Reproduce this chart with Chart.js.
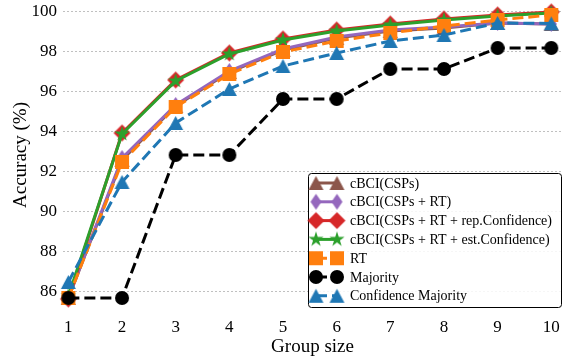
<!DOCTYPE html>
<html>
<head>
<meta charset="utf-8">
<script src="https://cdn.jsdelivr.net/npm/chart.js@4.4.0/dist/chart.umd.min.js"></script>
<style>
  html, body { margin: 0; padding: 0; background: #fff; }
</style>
</head>
<body>
<canvas id="accChart" width="565" height="360"></canvas>
<script>
const groupSizes = [1, 2, 3, 4, 5, 6, 7, 8, 9, 10];
const yTicks = [86, 88, 90, 92, 94, 96, 98, 100];

const accCsp = [85.7, 92.6, 95.3, 97.0, 98.1, 98.7, 99.05, 99.2, 99.45, 99.4];
const accCspRt = [85.7, 92.7, 95.35, 97.05, 98.15, 98.75, 99.1, 99.25, 99.45, 99.4];
const accRepConf = [85.65, 93.95, 96.6, 97.95, 98.65, 99.1, 99.4, 99.65, 99.85, 100.0];
const accEstConf = [85.8, 93.9, 96.55, 97.9, 98.6, 99.05, 99.35, 99.6, 99.8, 99.95];
const accRt = [85.7, 92.5, 95.25, 96.9, 98.0, 98.55, 98.95, 99.3, 99.6, 99.85];
const accMajority = [85.7, 85.7, 92.85, 92.85, 95.65, 95.65, 97.15, 97.15, 98.2, 98.2];
const accConfMajority = [86.5, 91.5, 94.45, 96.15, 97.3, 97.95, 98.55, 98.85, 99.45, 99.43];

const seriesNames = [
    'cBCI(CSPs)',
    'cBCI(CSPs + RT)',
    'cBCI(CSPs + RT + rep.Confidence)',
    'cBCI(CSPs + RT + est.Confidence)',
    'RT',
    'Majority',
    'Confidence Majority'
];

const serif = '"Liberation Serif", "DejaVu Serif", serif';

// filled marker drawn once on a small canvas, used as pointStyle
function makeMarker(shape, color, w, h) {
    const c = document.createElement('canvas');
    c.width = w + 2;
    c.height = h + 2;
    const g = c.getContext('2d');
    g.fillStyle = color;
    g.translate(c.width / 2, c.height / 2);
    g.beginPath();
    if (shape === 'triangle') {
        g.moveTo(0, -h / 2); g.lineTo(w / 2, h / 2); g.lineTo(-w / 2, h / 2);
    } else if (shape === 'diamond') {
        g.moveTo(0, -h / 2); g.lineTo(w / 2, 0); g.lineTo(0, h / 2); g.lineTo(-w / 2, 0);
    } else if (shape === 'square') {
        g.rect(-w / 2, -h / 2, w, h);
    } else if (shape === 'circle') {
        g.arc(0, 0, w / 2, 0, Math.PI * 2);
    } else if (shape === 'star') {
        for (let i = 0; i < 10; i++) {
            const r = i % 2 ? w / 2 * 0.382 : w / 2;
            const a = -Math.PI / 2 + i * Math.PI / 5;
            g.lineTo(r * Math.cos(a), r * Math.sin(a));
        }
    }
    g.closePath();
    g.fill();
    return c;
}

const styles = [
    { color: '#8c564b', dash: [], marker: makeMarker('triangle', '#8c564b', 15, 14) },
    { color: '#9467bd', dash: [], marker: makeMarker('diamond', '#9467bd', 11, 16) },
    { color: '#d62728', dash: [], marker: makeMarker('diamond', '#d62728', 17, 17) },
    { color: '#2ca02c', dash: [], marker: makeMarker('star', '#2ca02c', 16, 16) },
    { color: '#ff7f0e', dash: [11, 5], marker: makeMarker('square', '#ff7f0e', 14, 14) },
    { color: '#000000', dash: [11, 5], marker: makeMarker('circle', '#000000', 14, 14) },
    { color: '#1f77b4', dash: [11, 5], marker: makeMarker('triangle', '#1f77b4', 15, 14) }
];

const allSeries = [accCsp, accCspRt, accRepConf, accEstConf, accRt, accMajority, accConfMajority];

const datasets = allSeries.map((vals, i) => ({
    label: seriesNames[i],
    data: groupSizes.map((g, k) => ({ x: g, y: vals[k] })),
    borderColor: styles[i].color,
    backgroundColor: styles[i].color,
    borderWidth: 3,
    borderDash: styles[i].dash,
    pointStyle: styles[i].marker,
    pointRadius: 7,
    tension: 0,
    fill: false,
    clip: false,
    order: allSeries.length - i
}));

// legend box in the lower right, matplotlib style
const boxLegend = {
    id: 'boxLegend',
    afterDraw(chart) {
        const ctx = chart.ctx;
        const x0 = 308, y0 = 173, w = 253, h = 134;
        ctx.save();
        ctx.beginPath();
        ctx.roundRect(x0 + 0.5, y0 + 0.5, w, h, 3);
        ctx.fillStyle = 'rgba(255,255,255,0.85)';
        ctx.fill();
        ctx.strokeStyle = '#000';
        ctx.lineWidth = 1;
        ctx.stroke();

        ctx.font = '14px ' + serif;
        ctx.textBaseline = 'middle';
        ctx.textAlign = 'left';
        seriesNames.forEach((name, i) => {
            const y = 183 + i * 18.8;
            const s = styles[i];
            ctx.beginPath();
            ctx.setLineDash(s.dash);
            ctx.strokeStyle = s.color;
            ctx.lineWidth = 3;
            ctx.moveTo(316, y);
            ctx.lineTo(337, y);
            ctx.stroke();
            ctx.setLineDash([]);
            [316, 337].forEach(px => {
                ctx.drawImage(s.marker, px - s.marker.width / 2, y - s.marker.height / 2);
            });
            ctx.fillStyle = '#000';
            ctx.fillText(name, 350, y + 1);
        });
        ctx.restore();
    }
};

new Chart(document.getElementById('accChart'), {
    type: 'line',
    data: { datasets: datasets },
    options: {
        responsive: false,
        devicePixelRatio: 1,
        animation: false,
        layout: { autoPadding: false, padding: { top: 0, right: 3, bottom: 0, left: 0 } },
        scales: {
            x: {
                type: 'linear',
                min: 0.9,
                max: 10.2,
                afterBuildTicks: (s) => { s.ticks = groupSizes.map(v => ({ value: v })); },
                afterFit: (s) => { s.height = 50; s.paddingLeft = 0; s.paddingRight = 0; },
                grid: { display: false, drawTicks: false },
                border: { display: false },
                ticks: { color: '#000', font: { family: serif, size: 17 }, padding: 7, maxRotation: 0 },
                title: { display: true, text: 'Group size', color: '#000', font: { family: serif, size: 19 }, padding: { top: 0, bottom: 2 } }
            },
            y: {
                min: 85.1,
                max: 100.6,
                afterBuildTicks: (s) => { s.ticks = yTicks.map(v => ({ value: v })); },
                afterFit: (s) => { s.width = 63; s.paddingTop = 0; s.paddingBottom = 0; },
                grid: { color: '#b0b0b0', lineWidth: 0.8, drawTicks: false },
                border: { display: false, dash: [2, 2] },
                ticks: { color: '#000', font: { family: serif, size: 17 }, padding: 6 },
                title: { display: true, text: 'Accuracy (%)', color: '#000', font: { family: serif, size: 19 }, padding: { top: 10, bottom: 0 } }
            }
        },
        plugins: {
            legend: { display: false },
            tooltip: { enabled: false }
        }
    },
    plugins: [boxLegend]
});
</script>
</body>
</html>
